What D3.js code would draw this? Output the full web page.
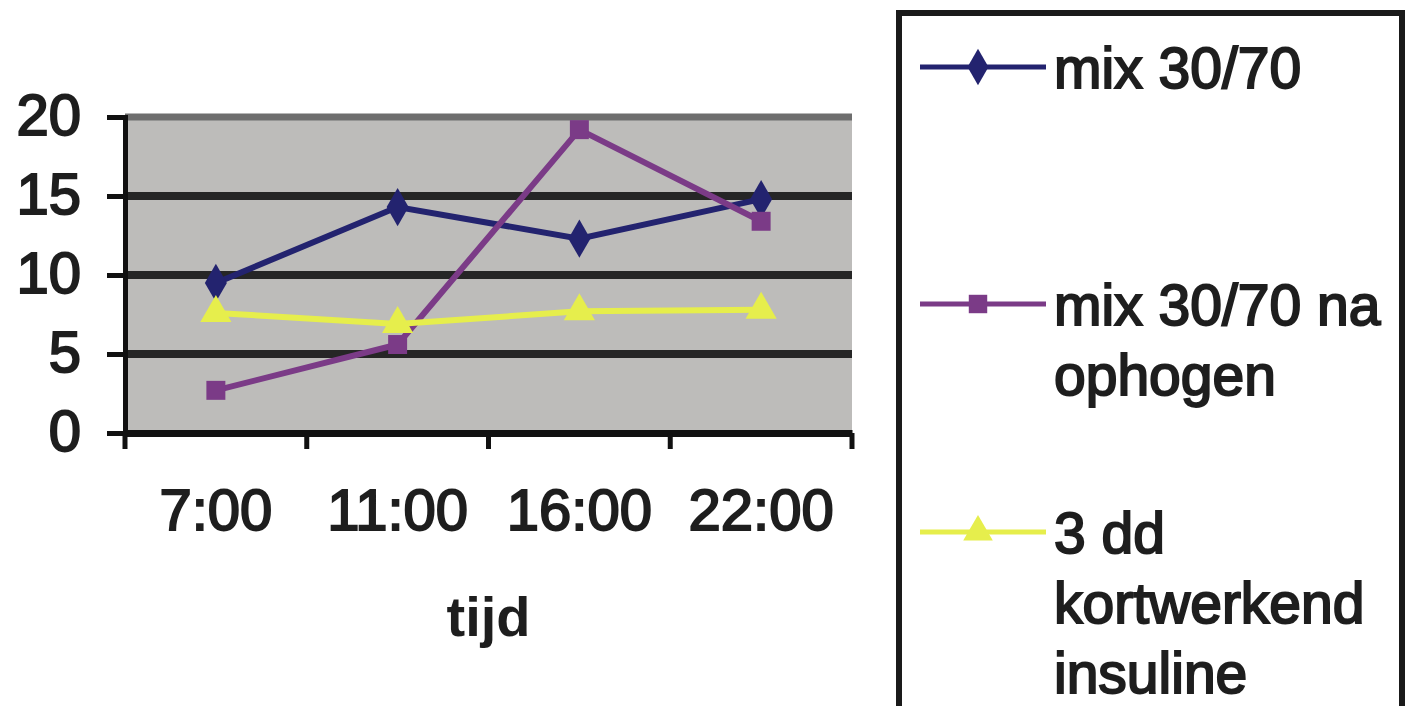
<!DOCTYPE html>
<html>
<head>
<meta charset="utf-8">
<script src="https://cdn.jsdelivr.net/npm/d3@7"></script>
<style>
  body { margin: 0; background: #fff; }
  svg text { font-family: "Liberation Sans", Arial, sans-serif; fill: #1e1e1e; }
</style>
</head>
<body>
<div id="wrapper"></div>
<script>
// data
const categories = ['7:00', '11:00', '16:00', '22:00'];
const yTicks = [0, 5, 10, 15, 20];
const seriesNames = ['mix 30/70', 'mix 30/70 na ophogen', '3 dd kortwerkend insuline'];
const mix = [9.5, 14.3, 12.3, 14.8];
const mixOphogen = [2.7, 5.6, 19.2, 13.4];
const kortwerkend = [7.6, 6.9, 7.7, 7.8];

const series = [
  { name: seriesNames[0], values: mix, color: '#23236f', shape: d3.symbolDiamond },
  { name: seriesNames[1], values: mixOphogen, color: '#7b3b87', shape: d3.symbolSquare },
  { name: seriesNames[2], values: kortwerkend, color: '#e6ee4c', shape: d3.symbolTriangle }
];

const W = 1416, H = 706;
const plot = { left: 125, right: 852, top: 117, bottom: 433 };

const svg = d3.select('#wrapper')
  .append('svg')
  .attr('width', W)
  .attr('height', H);

const x = d3.scaleBand()
  .domain(categories)
  .range([plot.left, plot.right])
  .padding(0);

const y = d3.scaleLinear()
  .domain([0, 20])
  .range([plot.bottom, plot.top]);

// plot background
svg.append('rect')
  .attr('x', plot.left)
  .attr('y', plot.top)
  .attr('width', plot.right - plot.left)
  .attr('height', plot.bottom - plot.top)
  .style('fill', '#bdbcba');

// gridlines
svg.append('g')
  .selectAll('line')
  .data([5, 10, 15])
  .enter()
  .append('line')
  .attr('x1', plot.left)
  .attr('x2', plot.right)
  .attr('y1', function (d) { return y(d) })
  .attr('y2', function (d) { return y(d) })
  .style('stroke', '#262626')
  .style('stroke-width', 8);

// top border of plot (at 20)
svg.append('line')
  .attr('x1', plot.left)
  .attr('x2', plot.right)
  .attr('y1', y(20))
  .attr('y2', y(20))
  .style('stroke', '#6e6e6e')
  .style('stroke-width', 7);

// y axis
const yAxis = svg.append('g')
  .attr('transform', 'translate(' + plot.left + ',0)')
  .call(d3.axisLeft(y).tickValues(yTicks).tickSize(18).tickPadding(26).tickFormat(d3.format('d')));
yAxis.select('.domain').style('stroke', '#111').style('stroke-width', 5);
yAxis.selectAll('.tick line').style('stroke', '#111').style('stroke-width', 5);
yAxis.selectAll('.tick text')
  .style('font-size', '58px')
  .style('stroke', '#1e1e1e')
  .style('stroke-width', 2)
  .attr('dy', '0.3em');

// x axis (labels centred in bands, ticks between categories)
const xAxis = svg.append('g')
  .attr('transform', 'translate(0,' + plot.bottom + ')')
  .call(d3.axisBottom(x).tickSize(0).tickPadding(56));
xAxis.select('.domain').style('stroke', '#111').style('stroke-width', 7);
xAxis.selectAll('.tick text')
  .style('font-size', '58px')
  .style('stroke', '#1e1e1e')
  .style('stroke-width', 2);

svg.append('g')
  .selectAll('line')
  .data(categories.map(function (c) { return x(c) }).concat([x.range()[1]]))
  .enter()
  .append('line')
  .attr('x1', function (d) { return d })
  .attr('x2', function (d) { return d })
  .attr('y1', plot.bottom)
  .attr('y2', plot.bottom + 16)
  .style('stroke', '#111')
  .style('stroke-width', 5);

// axis title
svg.append('text')
  .attr('x', (plot.left + plot.right) / 2)
  .attr('y', 636)
  .attr('text-anchor', 'middle')
  .style('font-size', '56px')
  .style('font-weight', 'bold')
  .text('tijd');

// series lines and markers
const line = d3.line()
  .x(function (d, i) { return x(categories[i]) + x.bandwidth() / 2 })
  .y(function (d) { return y(d) });

series.forEach(function (s) {
  svg.append('path')
    .datum(s.values)
    .attr('d', line)
    .style('fill', 'none')
    .style('stroke', s.color)
    .style('stroke-width', 6);
});

series.forEach(function (s) {
  svg.append('g')
    .selectAll('path')
    .data(s.values)
    .enter()
    .append('path')
    .attr('d', d3.symbol().type(s.shape).size(s.shape === d3.symbolSquare ? 360 : 420))
    .attr('transform', function (d, i) {
      return 'translate(' + (x(categories[i]) + x.bandwidth() / 2) + ',' + y(d) + ')';
    })
    .style('fill', s.color);
});

// legend
const legend = svg.append('g');
legend.append('rect')
  .attr('x', 899)
  .attr('y', 13)
  .attr('width', 503)
  .attr('height', 720)
  .style('fill', '#fff')
  .style('stroke', '#1a1a1a')
  .style('stroke-width', 6);

const legendRows = [
  { lineY: 67, lines: ['mix 30/70'] },
  { lineY: 304, lines: ['mix 30/70 na', 'ophogen'] },
  { lineY: 532, lines: ['3 dd', 'kortwerkend', 'insuline'] }
];

legendRows.forEach(function (r, i) {
  const s = series[i];
  legend.append('line')
    .attr('x1', 920)
    .attr('x2', 1046)
    .attr('y1', r.lineY)
    .attr('y2', r.lineY)
    .style('stroke', s.color)
    .style('stroke-width', 5);
  legend.append('path')
    .attr('d', d3.symbol().type(s.shape).size(s.shape === d3.symbolSquare ? 340 : 380))
    .attr('transform', 'translate(978,' + r.lineY + ')')
    .style('fill', s.color);
  const t = legend.append('text')
    .attr('x', 1054)
    .attr('y', r.lineY + 21)
    .style('font-size', '57px')
    .style('stroke', '#1e1e1e')
    .style('stroke-width', 2);
  r.lines.forEach(function (l, j) {
    t.append('tspan')
      .attr('x', 1054)
      .attr('dy', j === 0 ? 0 : 70)
      .text(l);
  });
});
</script>
</body>
</html>
